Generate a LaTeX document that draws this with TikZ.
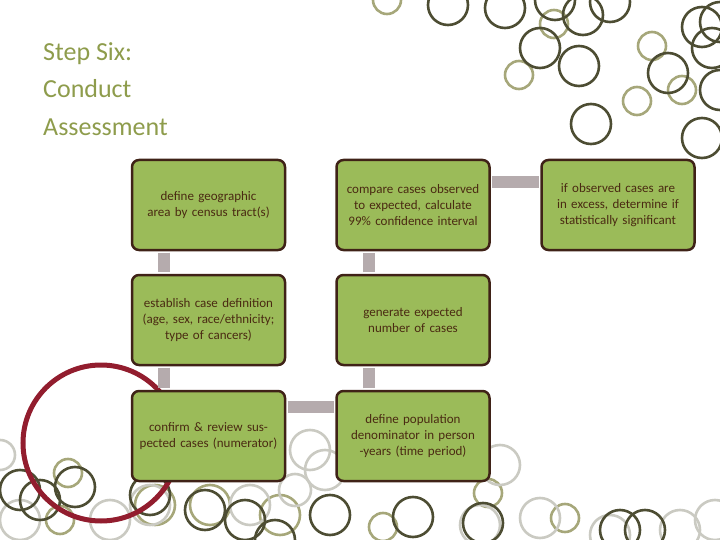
\documentclass[tikz,border=0pt]{standalone}
\usepackage{fontspec}
\setmainfont{Carlito}
\definecolor{boxfill}{HTML}{9BBB59}
\definecolor{boxline}{HTML}{3F2217}
\definecolor{conn}{HTML}{B5ABAD}
\definecolor{ttl}{HTML}{8E9C4C}
\definecolor{cdark}{HTML}{4D4D33}
\definecolor{colive}{HTML}{A6A77A}
\definecolor{cgray}{HTML}{CACAC2}
\definecolor{cred}{HTML}{921D2E}
\definecolor{txt}{HTML}{4A2A12}
\begin{document}
\begin{tikzpicture}[x=1pt,y=-1pt,
  stepbox/.style={draw=boxline,line width=2.5pt,fill=boxfill,rounded corners=7pt,minimum width=153pt,minimum height=90pt,text width=140pt,align=center,font=\fontsize{13}{16}\selectfont,text=txt},
  link/.style={conn,line width=12pt,shorten <=1.3pt,shorten >=1.3pt},
  dk/.style={cdark,line width=2.6pt},
  ol/.style={colive,line width=2.6pt},
  gr/.style={cgray,line width=2.6pt}]
\useasboundingbox (0,0) rectangle (720,540);
% background circles
\foreach \x/\y/\r in {387/0/14,554/24/14,519/75/14,652/46/14,682/90/14,637/101/14,68/473/14,155/505/20,210/505/20,280/515/20,448/465/14,488/493/14,383/527/14,565/518/14,60/520/14}
  \draw[ol] (\x,\y) circle (\r);
\foreach \x/\y/\r in {0/455/15,150/505/20,250/505/20,295/490/16,310/450/20,325/470/20,500/465/20,460/455/20,480/525/20,540/518/20,610/535/20,680/530/20,715/520/20,20/520/20,110/520/20}
  \draw[gr] (\x,\y) circle (\r);
\foreach \x/\y/\r in {448/5/20,505/8/20,555/0/20,610/2/20,583/15/20,540/48/20,579/66/20,668/73/20,702/27/20,712/48/20,720/22/20,720/90/20,702/138/20,591/124/20,20/490/20,40/500/20,75/487/20,150/495/20,205/510/20,245/520/20,330/515/20,275/540/20,413/517/20,483/523/20,620/530/20,645/530/20}
  \draw[dk] (\x,\y) circle (\r);
\draw[cred,line width=5pt] (101,443) circle (78);
% title
\node[anchor=north west,align=left,text=ttl,font=\fontsize{26}{37.5}\selectfont,inner sep=0pt] (title) at (43,42) {Step Six:\\Conduct\\Assessment};
% boxes
\node[stepbox] (a) at (208.5,205) {define geographic area by census tract(s)};
\node[stepbox] (b) at (413,205) {compare cases observed to expected, calculate 99\% confidence interval};
\node[stepbox] (c) at (618,205) {if observed cases are in excess, determine if statistically significant};
\node[stepbox] (d) at (208.5,320) {establish case definition (age, sex, race/ethnicity; type of cancers)};
\node[stepbox] (e) at (413,320) {generate expected number of cases};
\node[stepbox] (f) at (208.5,436) {confirm \& review suspected cases (numerator)};
\node[stepbox] (g) at (413,436) {define population denominator in person -years (time period)};
\draw[link] (164,0|-a.south) -- (164,0|-d.north);
\draw[link] (164,0|-d.south) -- (164,0|-f.north);
\draw[link] (f.east|-0,407) -- (g.west|-0,407);
\draw[link] (369,0|-g.north) -- (369,0|-e.south);
\draw[link] (369,0|-e.north) -- (369,0|-b.south);
\draw[link] (b.east|-0,182) -- (c.west|-0,182);
\end{tikzpicture}
\end{document}
